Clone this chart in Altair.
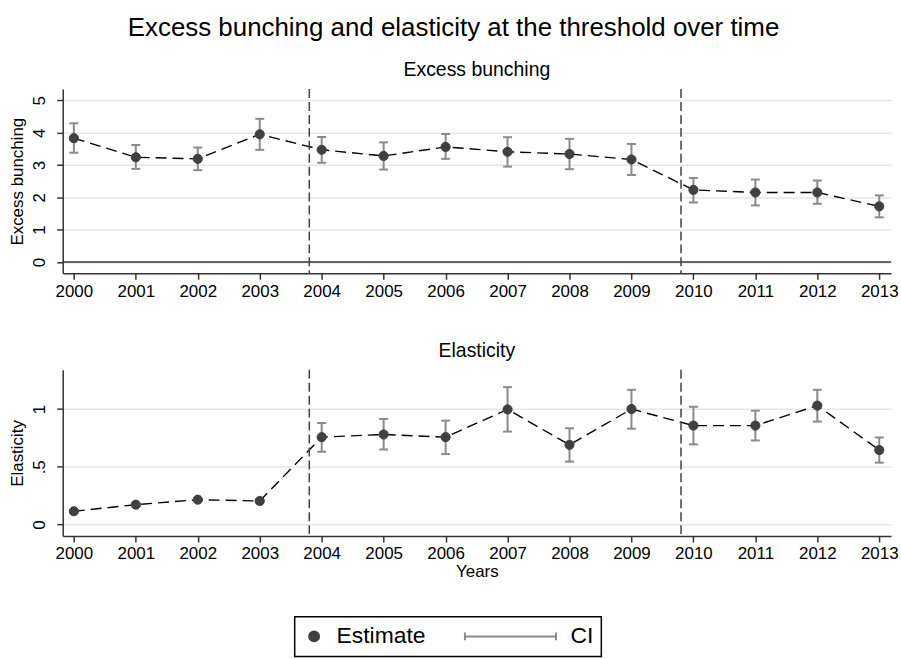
import altair as alt
import pandas as pd

# ---------------- data ----------------
years = list(range(2000, 2014))

bunch    = [3.83, 3.24, 3.19, 3.95, 3.47, 3.28, 3.56, 3.41, 3.34, 3.17, 2.23, 2.15, 2.15, 1.72]
bunch_lo = [3.38, 2.88, 2.84, 3.47, 3.07, 2.86, 3.19, 2.95, 2.87, 2.69, 1.84, 1.75, 1.80, 1.38]
bunch_hi = [4.29, 3.62, 3.54, 4.43, 3.87, 3.70, 3.96, 3.86, 3.81, 3.65, 2.60, 2.55, 2.52, 2.06]

elas    = [0.115, 0.172, 0.215, 0.204, 0.757, 0.780, 0.757, 0.997, 0.690, 1.000, 0.857, 0.857, 1.030, 0.645]
elas_lo = [0.105, 0.162, 0.205, 0.194, 0.630, 0.650, 0.610, 0.805, 0.545, 0.830, 0.694, 0.728, 0.892, 0.536]
elas_hi = [0.125, 0.182, 0.225, 0.214, 0.880, 0.915, 0.900, 1.190, 0.834, 1.167, 1.020, 0.986, 1.167, 0.754]

reform_years = [2003.8, 2009.8]

bunch_ticks = [0, 1, 2, 3, 4, 5]
elas_ticks = [0, 0.5, 1]

legend_labels = ["Estimate", "CI"]

# ---------------- styling ----------------
FONT = "Liberation Sans"
PLOT_W = 832
PT_COLOR = "#404040"
CI_COLOR = "#8a8a8a"
CI_PATH = "M-16.7,0L1.6,0M-16.7,-0.8L-16.7,0.8M1.6,-0.8L1.6,0.8"


def panel(est, lo, hi, title, ytitle, ydomain, yticks, height, xtitle, zero_line, with_legend):
    df = pd.DataFrame({"year": years, "est": est, "lo": lo, "hi": hi,
                       "series": ["Estimate"] * len(years)})
    df_r = pd.DataFrame({"ref": reform_years})

    xscale = alt.Scale(domain=[1999.82, 2013.19], nice=False, zero=False)
    yscale = alt.Scale(domain=ydomain, nice=False, zero=False)

    xaxis = alt.Axis(values=years, format="d", grid=False, labelFlush=False,
                     title=(xtitle if xtitle else ""))
    y_kw = dict(values=yticks, title=ytitle, grid=True, labelAngle=270,
                labelAlign="center", labelBaseline="bottom", labelOverlap=False)
    if 0.5 in yticks:
        y_kw["labelExpr"] = "datum.value == 0.5 ? '.5' : format(datum.value, 'd')"
    yaxis = alt.Axis(**y_kw)

    def X(field):
        return alt.X(field, scale=xscale, axis=xaxis)

    def Y(field):
        return alt.Y(field, scale=yscale, axis=yaxis)

    base = alt.Chart(df)
    layers = []

    # data layer first so it defines the axes
    layers.append(base.mark_line(color="black", strokeDash=[11, 6], strokeWidth=1.4)
                  .encode(x=X("year:Q"), y=Y("est:Q")))

    if zero_line:
        zdf = pd.DataFrame({"z": [0]})
        layers.append(alt.Chart(zdf).mark_rule(color="#333333", strokeWidth=1.5)
                      .encode(y=Y("z:Q")))

    layers.append(alt.Chart(df_r).mark_rule(color="#404040", strokeDash=[9, 4], strokeWidth=1.5)
                  .encode(x=X("ref:Q")))

    layers.append(base.mark_rule(color=CI_COLOR, strokeWidth=2)
                  .encode(x=X("year:Q"), y=Y("lo:Q"), y2="hi:Q"))
    layers.append(base.mark_tick(orient="horizontal", size=9, thickness=2, color=CI_COLOR, opacity=1)
                  .encode(x=X("year:Q"), y=Y("lo:Q")))
    layers.append(base.mark_tick(orient="horizontal", size=9, thickness=2, color=CI_COLOR, opacity=1)
                  .encode(x=X("year:Q"), y=Y("hi:Q")))

    if with_legend:
        leg = alt.Legend(title=None, orient="none", legendX=233, legendY=530,
                         direction="horizontal", symbolSize=100, symbolStrokeWidth=2,
                         labelFontSize=23, labelOffset=11, columnPadding=35,
                         padding=8, strokeColor="black")
        enc = dict(
            shape=alt.Shape("series:N", scale=alt.Scale(domain=legend_labels, range=["circle", CI_PATH]), legend=leg),
            fill=alt.Fill("series:N", scale=alt.Scale(domain=legend_labels, range=[PT_COLOR, CI_COLOR]), legend=leg),
            stroke=alt.Stroke("series:N", scale=alt.Scale(domain=legend_labels, range=[PT_COLOR, CI_COLOR]), legend=leg),
        )
        pts = base.mark_point(filled=True, size=85, strokeWidth=1, opacity=1).encode(
            x=X("year:Q"), y=Y("est:Q"), **enc)
    else:
        pts = base.mark_point(filled=True, size=85, color=PT_COLOR, stroke=PT_COLOR,
                              strokeWidth=1, opacity=1).encode(x=X("year:Q"), y=Y("est:Q"))
    layers.append(pts)

    return alt.layer(*layers).properties(
        width=PLOT_W, height=height,
        title=alt.TitleParams(title, fontSize=19.5, fontWeight="normal", anchor="middle", offset=8),
    )


top = panel(bunch, bunch_lo, bunch_hi, "Excess bunching", "Excess bunching",
            [-0.35, 5.35], bunch_ticks, 185, None, True, False)
bottom = panel(elas, elas_lo, elas_hi, "Elasticity", "Elasticity",
               [-0.1, 1.34], elas_ticks, 167, "Years", False, True)

chart = alt.vconcat(top, bottom, spacing=40).properties(
    title=alt.TitleParams("Excess bunching and elasticity at the threshold over time",
                          fontSize=26, fontWeight="normal", anchor="middle", frame="bounds", offset=19),
    padding={"left": 8, "top": 13, "right": 2, "bottom": 0},
).configure(font=FONT).configure_view(stroke="transparent").configure_axis(
    labelFont=FONT, titleFont=FONT, labelFontSize=17, titleFontSize=17,
    labelColor="black", titleColor="black", titleFontWeight="normal",
    domainColor="#333333", tickColor="#333333", domainWidth=1.5, tickWidth=1.5,
    tickSize=6, labelPadding=4, titlePadding=2,
    gridColor="#e6e6e6", gridWidth=1.5,
).configure_axisY(labelPadding=8, titlePadding=4).configure_title(
    font=FONT, color="black"
).configure_legend(labelFont=FONT, labelColor="black", strokeWidth=1.5)

chart.save("out.html", embed_options={"renderer": "svg", "actions": False})
